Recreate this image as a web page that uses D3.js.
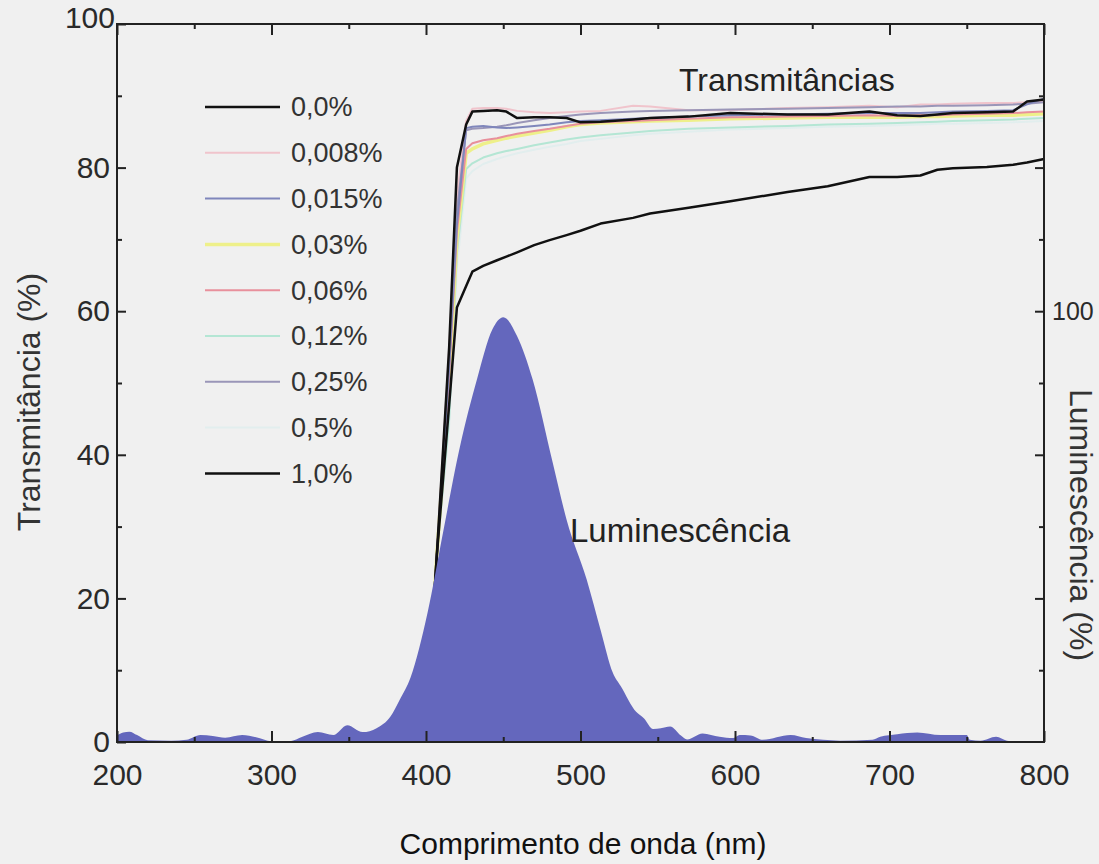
<!DOCTYPE html>
<html>
<head>
<meta charset="utf-8">
<script src="https://cdn.jsdelivr.net/npm/d3@7"></script>
<style>
body { margin: 0; background: #f0f0f0; }
svg { display: block; background: #f0f0f0; font-family: "Liberation Sans", Arial, sans-serif; }
.axis path { display: none; }
.axis line { stroke: #222; stroke-width: 2; }
.axis text { fill: #2a2a2a; font-size: 30px; font-family: "Liberation Sans", Arial, sans-serif; }
</style>
</head>
<body>
<script>
var w = 1099;
var h = 864;

// transmittance curves, one shared wavelength grid (nm)
var wavelengths = [400, 407, 415, 420, 426, 430, 437, 446, 452, 459, 470, 480, 491, 500, 513, 534, 545, 570, 597, 634, 660, 687, 705, 720, 731, 741, 763, 780, 789, 800];
var t000 = [2, 26, 55, 80, 86, 87.8, 87.9, 88.0, 87.8, 86.9, 87.0, 87.0, 86.9, 86.3, 86.4, 86.7, 86.9, 87.1, 87.6, 87.4, 87.4, 87.8, 87.3, 87.2, 87.4, 87.6, 87.7, 87.8, 89.2, 89.5];
var t008 = [2, 26, 55, 76, 86.5, 88.2, 88.3, 88.3, 88.2, 87.9, 87.7, 87.6, 87.7, 87.8, 87.9, 88.6, 88.5, 88.0, 88.0, 88.3, 88.4, 88.6, 88.4, 88.8, 88.8, 88.9, 89.0, 89.0, 89.1, 89.3];
var t015 = [2, 26, 52, 72, 85.5, 85.7, 85.8, 85.6, 85.5, 85.6, 85.8, 86.0, 86.3, 86.5, 86.6, 86.8, 86.9, 87.1, 87.3, 87.4, 87.5, 87.6, 87.6, 87.6, 87.7, 87.8, 87.9, 88.0, 88.8, 89.6];
var t030 = [2, 26, 50, 70, 82.0, 82.6, 83.3, 83.8, 84.1, 84.4, 84.8, 85.2, 85.7, 86.0, 86.2, 86.4, 86.5, 86.6, 86.8, 86.9, 87.0, 87.0, 87.0, 87.1, 87.1, 87.2, 87.3, 87.3, 87.4, 87.5];
var t060 = [2, 26, 51, 71, 82.6, 83.4, 83.8, 84.1, 84.4, 84.7, 85.1, 85.4, 85.8, 86.1, 86.3, 86.5, 86.6, 86.8, 87.0, 87.1, 87.2, 87.3, 87.2, 87.3, 87.3, 87.4, 87.5, 87.6, 87.7, 87.8];
var t120 = [2, 26, 45, 68, 79.8, 80.6, 81.4, 82.0, 82.3, 82.6, 83.1, 83.5, 83.9, 84.2, 84.5, 84.9, 85.1, 85.4, 85.6, 85.8, 86.0, 86.1, 86.2, 86.3, 86.4, 86.5, 86.6, 86.7, 86.8, 86.9];
var t250 = [2, 26, 54, 74, 85.2, 85.4, 85.5, 85.7, 85.9, 86.2, 86.6, 86.9, 87.2, 87.4, 87.6, 87.8, 87.9, 88.0, 88.1, 88.2, 88.3, 88.4, 88.5, 88.5, 88.6, 88.6, 88.7, 88.8, 88.9, 89.1];
var t500 = [2, 26, 44, 66, 78.5, 79.5, 80.5, 81.2, 81.6, 82.0, 82.5, 82.9, 83.3, 83.7, 84.0, 84.5, 84.7, 85.0, 85.3, 85.5, 85.7, 85.8, 85.9, 86.0, 86.1, 86.1, 86.2, 86.3, 86.4, 86.5];
var t1000 = [2, 26, 47, 60.5, 63.5, 65.5, 66.3, 67.1, 67.6, 68.2, 69.2, 69.9, 70.6, 71.2, 72.2, 73.0, 73.6, 74.4, 75.3, 76.6, 77.4, 78.7, 78.7, 78.9, 79.7, 79.9, 80.1, 80.4, 80.7, 81.2];

var seriesNames = ["0,0%", "0,008%", "0,015%", "0,03%", "0,06%", "0,12%", "0,25%", "0,5%", "1,0%"];
var seriesValues = [t000, t008, t015, t030, t060, t120, t250, t500, t1000];
var seriesColors = ["#111111", "#f0c4cc", "#7f86bb", "#eef08a", "#e8909c", "#b4e6d4", "#9a96b8", "#e2eeee", "#111111"];
var seriesWidths = [2.5, 2, 2, 3.5, 2, 2, 2, 2, 2.5];

// luminescence spectrum (right axis, %)
var lumWavelengths = [200, 204, 208, 213, 220, 235, 245, 254, 262, 270, 281, 290, 300, 312, 320, 330, 340, 349, 359, 368, 377, 383, 390, 401, 411, 422, 433, 443, 450, 459, 469, 482, 491, 504, 513, 521, 526, 536, 541, 547, 552, 558, 565, 569, 579, 590, 599, 603, 610, 618, 636, 646, 657, 668, 689, 694, 705, 718, 733, 750, 752, 759, 769, 776, 785, 800];
var lumValues = [1.5, 2.2, 2.4, 1.6, 0.4, 0.3, 0.5, 1.6, 1.4, 1.0, 1.6, 1.1, 0.2, 0.2, 1.2, 2.3, 1.6, 3.9, 2.3, 3.2, 5.9, 9.8, 15, 30, 48.6, 68.6, 84.2, 95.8, 98.6, 94.2, 84.2, 64.9, 51.6, 37.7, 26, 16, 13, 7, 5.5, 3, 3.2, 3.6, 1.5, 0.6, 2, 1.2, 0.9, 1.6, 1.5, 0.5, 1.6, 0.9, 0.5, 0.3, 0.5, 1.2, 1.8, 2.2, 1.6, 1.6, 0.5, 0.3, 1.2, 0.3, 0, 0];

// ticks
var xTicks = [200, 300, 400, 500, 600, 700, 800];
var xMinorTicks = [250, 350, 450, 550, 650, 750];
var yTicks = [0, 20, 40, 60, 80, 100];
var yMinorTicks = [10, 30, 50, 70, 90];
var lumTicks = [100 / 3, 200 / 3, 100, 400 / 3];
var lumMinorTicks = [50 / 3, 50, 250 / 3, 350 / 3, 150];

var svg = d3.select("body")
    .append("svg")
    .attr("width", w)
    .attr("height", h);

var xScale = d3.scaleLinear()
    .domain([200, 800])
    .range([117, 1044]);

var yScale = d3.scaleLinear()
    .domain([0, 100])
    .range([742, 24]);

// luminescence 100% sits at transmittance 60
var lumScale = d3.scaleLinear()
    .domain([0, 100])
    .range([yScale(0), yScale(60)]);

//curves (light ones first, black on top)
var order = [7, 5, 3, 4, 1, 6, 2, 0, 8];
var line = d3.line()
    .x(d => xScale(d[0]))
    .y(d => yScale(d[1]));

order.forEach(function(i) {
    var pts = wavelengths.map((wl, j) => [wl, seriesValues[i][j]]);
    svg.append("path")
        .datum(pts)
        .attr("fill", "none")
        .attr("stroke", seriesColors[i])
        .attr("stroke-width", seriesWidths[i])
        .attr("stroke-linejoin", "round")
        .attr("d", line);
});

//luminescence fill
var lumData = lumWavelengths.map((wl, j) => [wl, lumValues[j]]);
svg.append("path")
    .datum(lumData)
    .attr("fill", "#6467bd")
    .attr("d", d3.area()
        .curve(d3.curveMonotoneX)
        .x(d => xScale(d[0]))
        .y0(lumScale(0))
        .y1(d => lumScale(d[1])));

//frame
svg.append("rect")
    .attr("x", xScale(200))
    .attr("y", yScale(100))
    .attr("width", xScale(800) - xScale(200))
    .attr("height", yScale(0) - yScale(100))
    .attr("fill", "none")
    .attr("stroke", "#222")
    .attr("stroke-width", 2);

//axes
svg.append("g")
    .attr("class", "axis")
    .attr("transform", "translate(0," + yScale(0) + ")")
    .call(d3.axisBottom(xScale).tickValues(xTicks).tickSizeInner(-11).tickSizeOuter(0).tickPadding(22));

svg.append("g")
    .attr("class", "axis")
    .attr("transform", "translate(0," + yScale(0) + ")")
    .call(d3.axisBottom(xScale).tickValues(xMinorTicks).tickSizeInner(-5).tickSizeOuter(0).tickFormat(""));

svg.append("g")
    .attr("class", "axis")
    .attr("transform", "translate(0," + yScale(100) + ")")
    .call(d3.axisTop(xScale).tickValues(xTicks).tickSizeInner(-11).tickSizeOuter(0).tickFormat(""));

svg.append("g")
    .attr("class", "axis")
    .attr("transform", "translate(0," + yScale(100) + ")")
    .call(d3.axisTop(xScale).tickValues(xMinorTicks).tickSizeInner(-5).tickSizeOuter(0).tickFormat(""));

var yAxisG = svg.append("g")
    .attr("class", "axis")
    .attr("transform", "translate(" + xScale(200) + ",0)")
    .call(d3.axisLeft(yScale).tickValues(yTicks).tickSizeInner(-9).tickSizeOuter(0).tickPadding(7));
yAxisG.selectAll("text").filter(d => d === 100)
    .attr("fill", "#000")
    .attr("x", -2)
    .attr("dy", "0.1em");

svg.append("g")
    .attr("class", "axis")
    .attr("transform", "translate(" + xScale(200) + ",0)")
    .call(d3.axisLeft(yScale).tickValues(yMinorTicks).tickSizeInner(-5).tickSizeOuter(0).tickFormat(""));

svg.append("g")
    .attr("class", "axis")
    .attr("transform", "translate(" + xScale(800) + ",0)")
    .call(d3.axisRight(lumScale).tickValues(lumTicks).tickSizeInner(-9).tickSizeOuter(0).tickPadding(8)
        .tickFormat(d => Math.abs(d - 100) < 0.01 ? "100" : ""))
    .selectAll("text")
    .style("font-size", "25px")
    .attr("fill", "#444");

svg.append("g")
    .attr("class", "axis")
    .attr("transform", "translate(" + xScale(800) + ",0)")
    .call(d3.axisRight(lumScale).tickValues(lumMinorTicks).tickSizeInner(-5).tickSizeOuter(0).tickFormat(""));

//legend
var legend = svg.append("g");
seriesNames.forEach(function(name, i) {
    var ly = 107 + i * 45.8;
    legend.append("line")
        .attr("x1", 205).attr("x2", 280)
        .attr("y1", ly).attr("y2", ly)
        .attr("stroke", seriesColors[i])
        .attr("stroke-width", seriesWidths[i]);
    legend.append("text")
        .attr("x", 291)
        .attr("y", ly)
        .attr("dy", "0.35em")
        .attr("font-size", 27)
        .attr("fill", "#333")
        .text(name);
});

//labels
svg.append("text")
    .text("Transmitâncias")
    .attr("x", 679)
    .attr("y", 91)
    .attr("font-size", 32)
    .attr("fill", "#222");

svg.append("text")
    .text("Luminescência")
    .attr("x", 570)
    .attr("y", 542)
    .attr("font-size", 33)
    .attr("fill", "#222");

svg.append("text")
    .text("Comprimento de onda (nm)")
    .attr("text-anchor", "middle")
    .attr("x", 583)
    .attr("y", 854)
    .attr("font-size", 30)
    .attr("fill", "#111");

svg.append("text")
    .text("Transmitância (%)")
    .attr("text-anchor", "middle")
    .attr("transform", "translate(40,402) rotate(-90)")
    .attr("font-size", 32)
    .attr("fill", "#333");

svg.append("text")
    .text("Luminescência (%)")
    .attr("text-anchor", "middle")
    .attr("transform", "translate(1070,525) rotate(90)")
    .attr("font-size", 32)
    .attr("fill", "#333");
</script>
</body>
</html>
